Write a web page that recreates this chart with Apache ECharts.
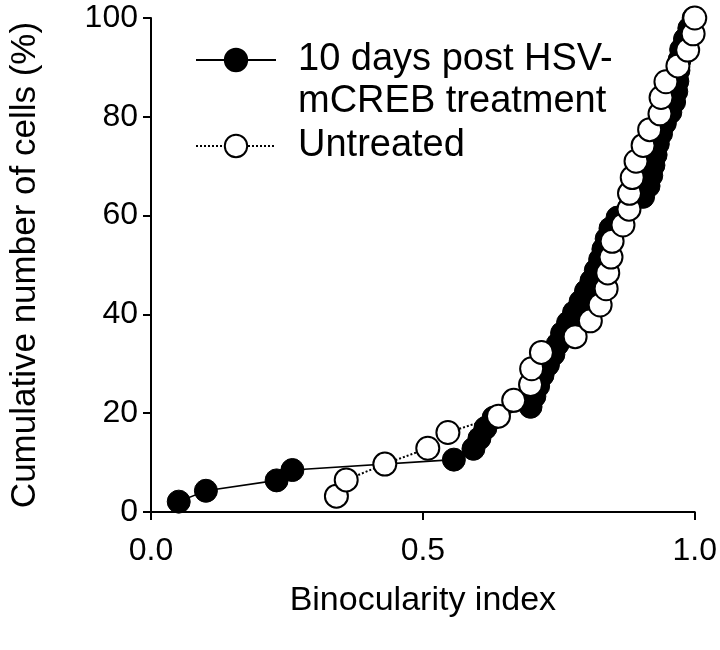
<!DOCTYPE html>
<html>
<head>
<meta charset="utf-8">
<script src="https://cdn.jsdelivr.net/npm/echarts@6/dist/echarts.min.js"></script>
<style>
html,body{margin:0;padding:0;background:#fff;}
#chart{width:720px;height:650px;}
</style>
</head>
<body>
<div id="chart"></div>
<script>
// ---- data ----
var treatedName = '10 days post HSV-\nmCREB treatment';
var untreatedName = 'Untreated';
var treatedX = [0.051,0.101,0.231,0.260,0.557,0.593,0.604,0.615,0.630,0.698,0.705,0.712,0.720,0.730,0.740,0.748,0.756,0.767,0.778,0.790,0.800,0.810,0.818,0.826,0.832,0.838,0.845,0.858,0.880,0.905,0.915,0.920,0.924,0.928,0.932,0.938,0.945,0.955,0.962,0.966,0.968,0.970,0.972,0.975,0.982,0.990,0.998];
var treatedY = [2.1,4.3,6.4,8.5,10.6,12.8,14.9,17.0,19.1,21.3,23.4,25.5,27.7,29.8,31.9,34.0,36.2,38.3,40.4,42.6,44.7,46.8,48.9,51.1,53.2,55.3,57.4,59.6,61.7,63.8,66.0,68.1,70.2,72.3,74.5,76.6,78.7,80.9,83.0,85.1,87.2,89.4,91.5,93.6,95.7,97.9,100];
var untreatedX = [0.341,0.359,0.430,0.509,0.546,0.639,0.667,0.698,0.700,0.718,0.780,0.808,0.826,0.837,0.840,0.846,0.848,0.868,0.879,0.880,0.885,0.892,0.905,0.917,0.936,0.938,0.947,0.969,0.987,0.997,1.0];
var untreatedY = [3.2,6.5,9.7,12.9,16.1,19.4,22.6,25.8,29.0,32.3,35.5,38.7,41.9,45.2,48.4,51.6,54.8,58.1,61.3,64.5,67.7,71.0,74.2,77.4,80.6,83.9,87.1,90.3,93.5,96.8,100];
var xTicks = [0, 0.5, 1.0];
var yTicks = [0, 20, 40, 60, 80, 100];
var xTitle = 'Binocularity index';
var yTitle = 'Cumulative number of cells (%)';

function zip(xs, ys){ return xs.map(function(x,i){ return [x, ys[i]]; }); }

var FONT = '"Liberation Sans", Arial, sans-serif';
var chart = echarts.init(document.getElementById('chart'), null, {renderer:'canvas'});
chart.setOption({
  backgroundColor: '#ffffff',
  animation: false,
  textStyle: { fontFamily: FONT, color: '#000' },
  grid: { left: 151, right: 23, top: 18, bottom: 138, containLabel: false },
  xAxis: {
    type: 'value', min: xTicks[0], max: xTicks[xTicks.length-1], interval: 0.5,
    name: xTitle, nameLocation: 'middle', nameGap: 72,
    nameTextStyle: { fontSize: 34, color: '#000', fontFamily: FONT },
    axisLine: { lineStyle: { color: '#000', width: 2 } },
    axisTick: { show: true, inside: false, length: 8, lineStyle: { color: '#000', width: 2 } },
    axisLabel: { fontSize: 32, color: '#000', margin: 23, fontFamily: FONT,
      formatter: function(v){ return v.toFixed(1); } },
    splitLine: { show: false }
  },
  yAxis: {
    type: 'value', min: yTicks[0], max: yTicks[yTicks.length-1], interval: 20,
    name: yTitle, nameLocation: 'middle', nameGap: 108, nameRotate: 90,
    nameTextStyle: { fontSize: 35, color: '#000', fontFamily: FONT },
    axisLine: { show: true, lineStyle: { color: '#000', width: 2 } },
    axisTick: { show: true, inside: false, length: 8, lineStyle: { color: '#000', width: 2 } },
    axisLabel: { fontSize: 32, color: '#000', margin: 13, fontFamily: FONT },
    splitLine: { show: false }
  },
  legend: [
    {
      data: [treatedName], left: 195, top: -3, padding: 0, orient: 'vertical',
      itemWidth: 80, itemHeight: 28,
      formatter: function(n){ return '\n' + n; },
      textStyle: { fontSize: 38, color: '#000', fontFamily: FONT, lineHeight: 42, padding: [0,0,0,17] }
    },
    {
      data: [untreatedName], left: 195, top: 126, padding: 0, orient: 'vertical',
      itemWidth: 80, itemHeight: 28,
      textStyle: { fontSize: 38, color: '#000', fontFamily: FONT, lineHeight: 40, padding: [0,0,0,17] }
    }
  ],
  series: [
    {
      name: treatedName, type: 'line', data: zip(treatedX, treatedY),
      symbol: 'circle', symbolSize: 23, clip: false, z: 2,
      itemStyle: { color: '#000', borderColor: '#000', borderWidth: 1 },
      lineStyle: { color: '#000', width: 1.6, type: 'solid' }
    },
    {
      name: untreatedName, type: 'line', data: zip(untreatedX, untreatedY),
      symbol: 'circle', symbolSize: 23, clip: false, z: 3,
      itemStyle: { color: '#fff', borderColor: '#000', borderWidth: 2 },
      lineStyle: { color: '#000', width: 2, type: 'dotted' }
    }
  ]
});
</script>
</body>
</html>
